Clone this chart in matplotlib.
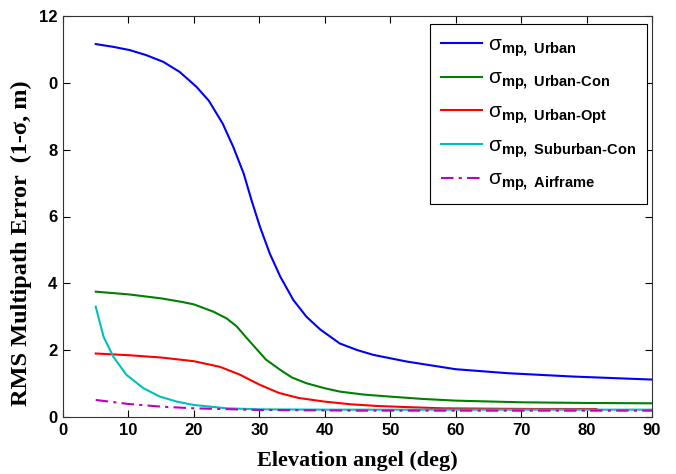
import numpy as np
import matplotlib
matplotlib.use("Agg")
import matplotlib.pyplot as plt

# multipath error curves vs elevation angle
urban_x = [5, 7.6, 10.2, 12.7, 15.3, 17.8, 20.4, 22.3, 24.4, 26, 27.6, 28.8, 30.1,
           31.6, 33.2, 35.2, 37.2, 39.3, 42.3, 45, 47.4, 52.5, 60, 68, 78, 90]
urban_y = [11.16, 11.08, 10.98, 10.83, 10.63, 10.33, 9.88, 9.46, 8.78, 8.09, 7.29, 6.49,
           5.69, 4.89, 4.20, 3.50, 3.00, 2.62, 2.20, 2.0, 1.86, 1.66, 1.43, 1.31, 1.21, 1.12]

urban_con_x = [5, 10, 15, 18, 20, 23, 25, 26.5, 28, 29.5, 31, 33.2, 35, 37.2, 40,
               42.3, 46, 50, 55, 60, 70, 80, 90]
urban_con_y = [3.75, 3.67, 3.55, 3.45, 3.37, 3.15, 2.95, 2.72, 2.38, 2.05, 1.72, 1.41,
               1.18, 1.01, 0.86, 0.76, 0.67, 0.61, 0.54, 0.49, 0.44, 0.42, 0.41]

urban_opt_x = [5, 10, 15, 20, 24, 27, 30, 33, 36, 40, 44, 48, 52, 58, 65, 72, 81.5]
urban_opt_y = [1.90, 1.85, 1.78, 1.67, 1.50, 1.27, 0.97, 0.72, 0.57, 0.46, 0.38, 0.33,
               0.30, 0.26, 0.25, 0.24, 0.24]

suburban_x = [5, 6.2, 7.7, 9.7, 12.3, 14.8, 17.4, 20, 25, 30, 40, 60, 90]
suburban_y = [3.30, 2.40, 1.80, 1.26, 0.86, 0.61, 0.46, 0.36, 0.26, 0.23, 0.22, 0.22, 0.22]

airframe_x = [5, 10, 15, 20, 30, 45, 60, 90]
airframe_y = [0.51, 0.39, 0.31, 0.26, 0.21, 0.19, 0.19, 0.19]

labels = ["Urban", "Urban-Con", "Urban-Opt", "Suburban-Con", "Airframe"]
xticks = [0, 10, 20, 30, 40, 50, 60, 70, 80, 90]
yticks = [0, 2, 4, 6, 8, 10, 12]
ytick_labels = ["0", "2", "4", "6", "8", "0", "12"]

plt.rcParams["mathtext.fontset"] = "custom"
plt.rcParams["mathtext.rm"] = "Liberation Sans"
plt.rcParams["mathtext.bf"] = "Liberation Sans:bold"
plt.rcParams["mathtext.it"] = "Liberation Sans"

fig = plt.figure(figsize=(6.76, 4.74), dpi=100)
ax = fig.add_axes([63 / 676, 57 / 474, 589 / 676, 401 / 474])

series = [
    (urban_x, urban_y, (0, 0, 1), "-"),
    (urban_con_x, urban_con_y, (0, 0.5, 0), "-"),
    (urban_opt_x, urban_opt_y, (1, 0, 0), "-"),
    (suburban_x, suburban_y, (0, 0.75, 0.75), "-"),
    (airframe_x, airframe_y, (0.75, 0, 0.75), (0, (6, 2.5, 1.5, 2.5))),
]
for (x, y, c, ls), name in zip(series, labels):
    ax.plot(x, y, color=c, ls=ls, lw=1.5,
            label=r"$\mathrm{\sigma}_{\mathbf{mp,\ %s}}$" % name.replace("-", "\u2010"))

ax.set_xlim(0, 90)
ax.set_ylim(0, 12)
ax.set_xticks(xticks)
ax.set_yticks(yticks)
ax.set_yticklabels(ytick_labels)
ax.tick_params(direction="in", top=True, right=True, length=5, width=0.8,
               labelsize=12, pad=4)
for lab in ax.get_xticklabels() + ax.get_yticklabels():
    lab.set_fontweight("bold")
    lab.set_family("Liberation Sans")
for sp in ax.spines.values():
    sp.set_linewidth(0.8)
    sp.set_color("#333333")

ax.set_xlabel("Elevation angel (deg)", family="Liberation Serif", fontweight="bold",
              fontsize=16, labelpad=10)
ax.set_ylabel("RMS Multipath Error  (1-\u03c3, m)", family="Liberation Serif",
              fontweight="bold", fontsize=17.5)
ax.yaxis.set_label_coords(-0.053, 0.434)

leg = ax.legend(loc="upper right", bbox_to_anchor=(0.9915, 0.98), borderaxespad=0,
                fontsize=15, fancybox=False, framealpha=1, edgecolor="black",
                handlelength=2.0, labelspacing=0.45, borderpad=0.5, handletextpad=0.3)
leg.get_frame().set_linewidth(0.8)

fig.savefig("out.png", dpi=100)
